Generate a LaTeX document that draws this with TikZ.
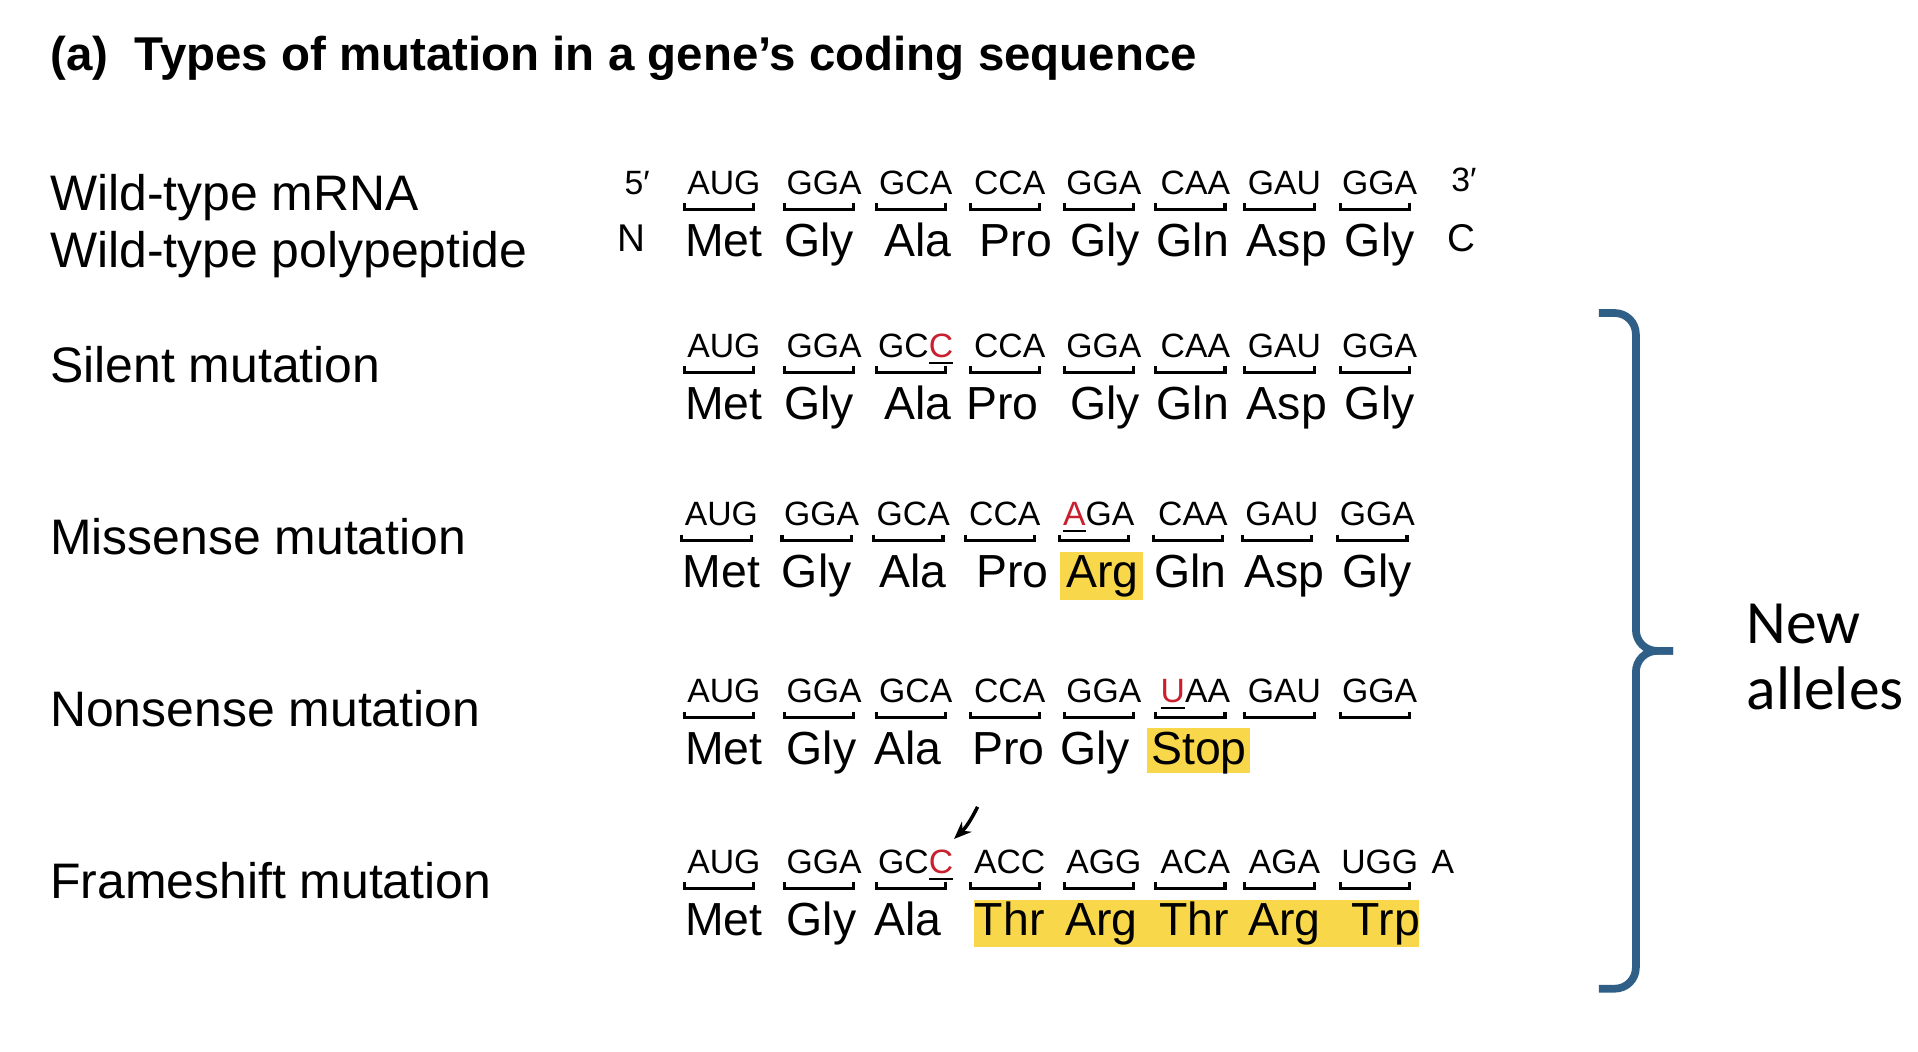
\documentclass[tikz,border=0pt]{standalone}
\usepackage{fontspec}
\usetikzlibrary{arrows.meta}
\setmainfont{Liberation Sans}
\newfontfamily\calfont{Carlito}
\definecolor{hl}{HTML}{F8D84A}
\definecolor{mut}{HTML}{C8202F}
\definecolor{brc}{HTML}{2F5F86}
\newcommand{\mt}[1]{\underline{\textcolor{mut}{#1}}}
\begin{document}
\begin{tikzpicture}[x=0.01237cm,y=-0.01237cm,
  codon/.style={anchor=base,inner sep=0pt,font=\fontsize{9.6}{12}\selectfont},
  amino/.style={anchor=base,inner sep=0pt,font=\fontsize{13.2}{16}\selectfont},
  lbl/.style={anchor=base west,inner sep=0pt,font=\fontsize{14.2}{17}\selectfont},
  brk/.style={line width=0.9pt},
  hlbox/.style={fill=hl,draw=none}]
\useasboundingbox (0,0) rectangle (1550,850);
% highlights
\fill[hlbox] (857,446) rectangle (924,485);
\fill[hlbox] (927,588) rectangle (1010,625);
\fill[hlbox] (787,727) rectangle (1147,765);
% title
\node[anchor=base west,inner sep=0pt,font=\fontsize{13.5}{16}\selectfont\bfseries] (title) at (40,57) {(a)\ \ Types of mutation in a gene’s coding sequence};
% labels
\node[lbl] (l1) at (40,170) {Wild-type mRNA};
\node[lbl] (l2) at (40,216) {Wild-type polypeptide};
\node[lbl] (l3) at (40,309) {Silent mutation};
\node[lbl] (l4) at (40,448) {Missense mutation};
\node[lbl] (l5) at (40,587) {Nonsense mutation};
\node[lbl] (l6) at (40,726) {Frameshift mutation};
% ends
\node[codon] (p5) at (515,157) {5′};
\node[codon] (p3) at (1183,155) {3′};
\node[codon,font=\fontsize{11}{13}\selectfont] (pN) at (510,203) {N};
\node[codon,font=\fontsize{11}{13}\selectfont] (pC) at (1181,203) {C};
% row 1
\foreach \i/\x/\c/\a/\ax in {1/581/AUG/Met/581,2/662/GGA/Gly/658,3/736/GCA/Ala/738,4/812/CCA/Pro/817,5/888/GGA/Gly/889,6/962/CAA/Gln/960,7/1034/GAU/Asp/1036,8/1111/GGA/Gly/1111}{
  \node[codon] (ac\i) at (\x+4,157) {\c};
  \draw[brk] (\x-28,164) -- (\x-28,169) -- (\x+28,169) -- (\x+28,164);
  \node[amino] (aa\i) at (\ax+4,207) {\a};
}
% row 2 silent
\foreach \i/\x/\c/\a/\ax in {1/581/AUG/Met/581,2/662/GGA/Gly/658,3/736/GC\mt{C}/Ala/738,4/812/CCA/Pro/806,5/888/GGA/Gly/889,6/962/CAA/Gln/960,7/1034/GAU/Asp/1036,8/1111/GGA/Gly/1111}{
  \node[codon] (bc\i) at (\x+4,289) {\c};
  \draw[brk] (\x-28,296) -- (\x-28,301) -- (\x+28,301) -- (\x+28,296);
  \node[amino] (ba\i) at (\ax+4,339) {\a};
}
% row 3 missense
\foreach \i/\x/\c/\a/\ax in {1/579/AUG/Met/579,2/660/GGA/Gly/656,3/734/GCA/Ala/734,4/808/CCA/Pro/814,5/884/\mt{A}GA/Arg/887,6/960/CAA/Gln/958,7/1032/GAU/Asp/1034,8/1109/GGA/Gly/1109}{
  \node[codon] (cc\i) at (\x+4,425) {\c};
  \draw[brk] (\x-28,432) -- (\x-28,437) -- (\x+28,437) -- (\x+28,432);
  \node[amino] (ca\i) at (\ax+4,475) {\a};
}
% row 4 nonsense
\foreach \i/\x/\c in {1/581/AUG,2/662/GGA,3/736/GCA,4/812/CCA,5/888/GGA,6/962/\mt{U}AA,7/1034/GAU,8/1111/GGA}{
  \node[codon] (dc\i) at (\x+4,568) {\c};
  \draw[brk] (\x-28,575) -- (\x-28,580) -- (\x+28,580) -- (\x+28,575);
}
\foreach \i/\ax/\a in {1/581/Met,2/660/Gly,3/730/Ala,4/811/Pro,5/881/Gly,6/965/Stop}{
  \node[amino] (da\i) at (\ax+4,618) {\a};
}
% row 5 frameshift
\foreach \i/\x/\c in {1/581/AUG,2/662/GGA,3/736/GC\mt{C},4/812/ACC,5/888/AGG,6/962/ACA,7/1034/AGA,8/1111/UGG}{
  \node[codon] (ec\i) at (\x+4,706) {\c};
  \draw[brk] (\x-28,713) -- (\x-28,718) -- (\x+28,718) -- (\x+28,713);
}
\node[codon] (ec9) at (1166,706) {A};
\foreach \i/\ax/\a in {1/581/Met,2/660/Gly,3/730/Ala,4/812/Thr,5/886/Arg,6/961/Thr,7/1034/Arg,8/1116/Trp}{
  \node[amino] (ea\i) at (\ax+4,756) {\a};
}
\coordinate (arS) at (790,652);
\coordinate (arE) at (771,678);
\draw[line width=1pt,-{Stealth[length=5pt,width=4pt]}] (arS) to[bend left=10] (arE);
% brace
\draw[brc,line width=2.2pt,rounded corners=6pt] (1292,253) -- (1322,253) -- (1322,526) -- (1352,526);
\draw[brc,line width=2.2pt,rounded corners=6pt] (1352,526) -- (1322,526) -- (1322,799) -- (1292,799);
% new alleles
\node[anchor=base west,inner sep=0pt,font=\calfont\fontsize{17.5}{22}\selectfont] (na) at (1411,520) {New};
\node[anchor=base west,inner sep=0pt,font=\calfont\fontsize{17.5}{22}\selectfont] (nb) at (1411,573) {alleles};
\end{tikzpicture}
\end{document}
